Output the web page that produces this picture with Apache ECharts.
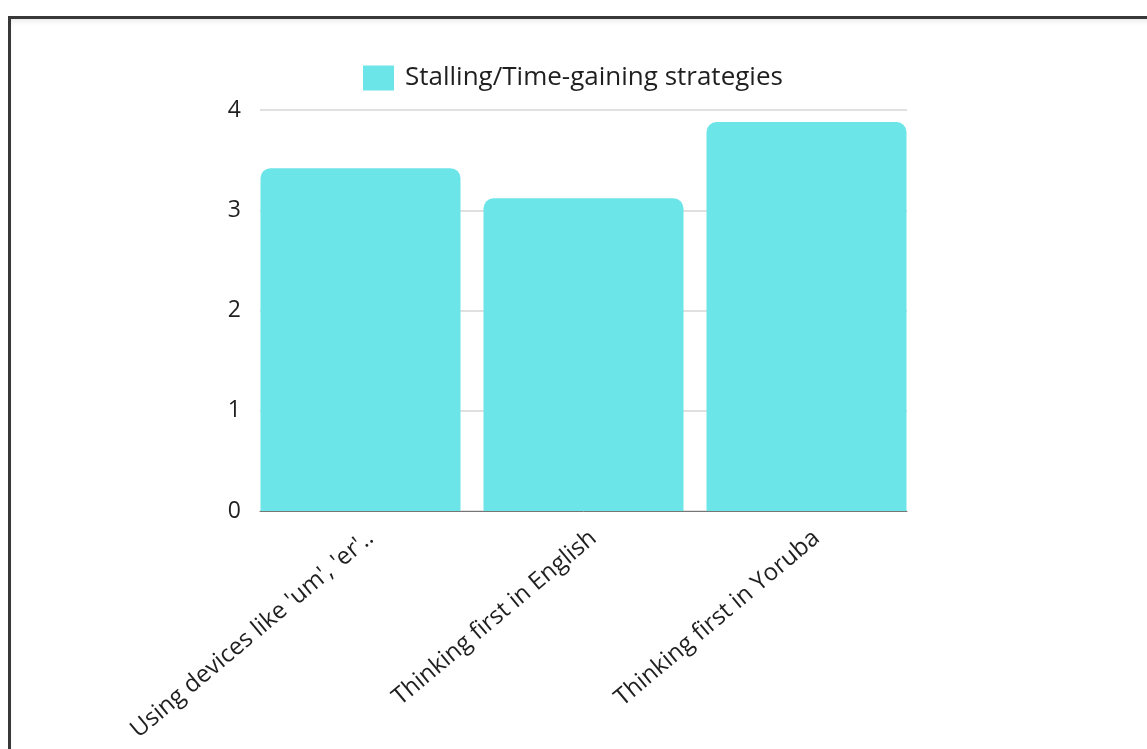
<!DOCTYPE html>
<html>
<head>
<meta charset="utf-8">
<script src="https://cdn.jsdelivr.net/npm/echarts@6/dist/echarts.min.js"></script>
<style>
  html, body { margin: 0; padding: 0; background: #fff; }
  #wrap { position: relative; width: 1147px; height: 749px; overflow: hidden; }
  #frame {
    position: absolute; left: 8px; top: 16px; width: 1200px; height: 800px;
    border-top: 3px solid #383838; border-left: 3px solid #383838;
    box-shadow: inset 0 4px 6px -3px rgba(0,0,0,0.12);
    box-sizing: border-box;
  }
  #chart { position: absolute; left: 0; top: 0; width: 1147px; height: 749px; }
</style>
</head>
<body>
<div id="wrap">
  <div id="frame"></div>
  <div id="chart"></div>
</div>
<script>
// Strategy categories and their mean ratings
const categories = ["Using devices like 'um', 'er'..", "Thinking first in English", "Thinking first in Yoruba"];
const seriesName = "Stalling/Time-gaining strategies";
const values = [3.42, 3.12, 3.88];
const yTicks = [0, 1, 2, 3, 4];

const FONT = "'Open Sans', 'Noto Sans', sans-serif";
const BAR_COLOR = '#6ce5e8';
const TEXT = '#1f1f1f';

const chart = echarts.init(document.getElementById('chart'), null, { renderer: 'canvas' });

const yMin = yTicks[0], yMax = yTicks[yTicks.length - 1];

chart.setOption({
  backgroundColor: 'transparent',
  animation: false,
  textStyle: { fontFamily: FONT },
  legend: {
    data: [seriesName],
    left: 358,
    top: 60,
    itemWidth: 31,
    itemHeight: 25,
    icon: 'rect',
    textStyle: { fontSize: 26, color: TEXT, fontFamily: FONT, padding: [0, 0, 0, 6] }
  },
  grid: [
    // bars
    { left: 249, right: 229, top: 110, bottom: 238 },
    // value axis with gridlines and baseline
    { left: 260, right: 240, top: 110, bottom: 238 },
    // category labels, nudged right of the bar centres
    { left: 259, right: 219, top: 110, bottom: 238 }
  ],
  xAxis: [
    {
      type: 'category', gridIndex: 0, data: categories,
      axisLine: { show: false }, axisTick: { show: false }, axisLabel: { show: false }
    },
    {
      type: 'value', gridIndex: 1, min: 0, max: 1,
      axisLine: { show: true, lineStyle: { color: '#777', width: 1 } },
      axisTick: { show: false }, axisLabel: { show: false }, splitLine: { show: false }
    },
    {
      type: 'category', gridIndex: 2, data: categories,
      axisLine: { show: false }, axisTick: { show: false },
      axisLabel: {
        rotate: 40, margin: 24, fontSize: 24, color: TEXT, fontFamily: FONT, interval: 0
      }
    }
  ],
  yAxis: [
    { type: 'value', gridIndex: 0, min: yMin, max: yMax, interval: 1, show: false },
    {
      type: 'value', gridIndex: 1, min: yMin, max: yMax, interval: 1,
      axisLine: { show: false }, axisTick: { show: false },
      axisLabel: { margin: 19, fontSize: 23, color: TEXT, fontFamily: FONT },
      splitLine: { show: true, lineStyle: { color: '#e0e0e0', width: 2 } }
    },
    { type: 'value', gridIndex: 2, min: yMin, max: yMax, interval: 1, show: false }
  ],
  series: [
    {
      name: seriesName,
      type: 'bar',
      xAxisIndex: 0, yAxisIndex: 0,
      data: values,
      barWidth: 200,
      z: 3,
      itemStyle: { color: BAR_COLOR, borderRadius: [10, 10, 0, 0] }
    }
  ]
});
</script>
</body>
</html>
